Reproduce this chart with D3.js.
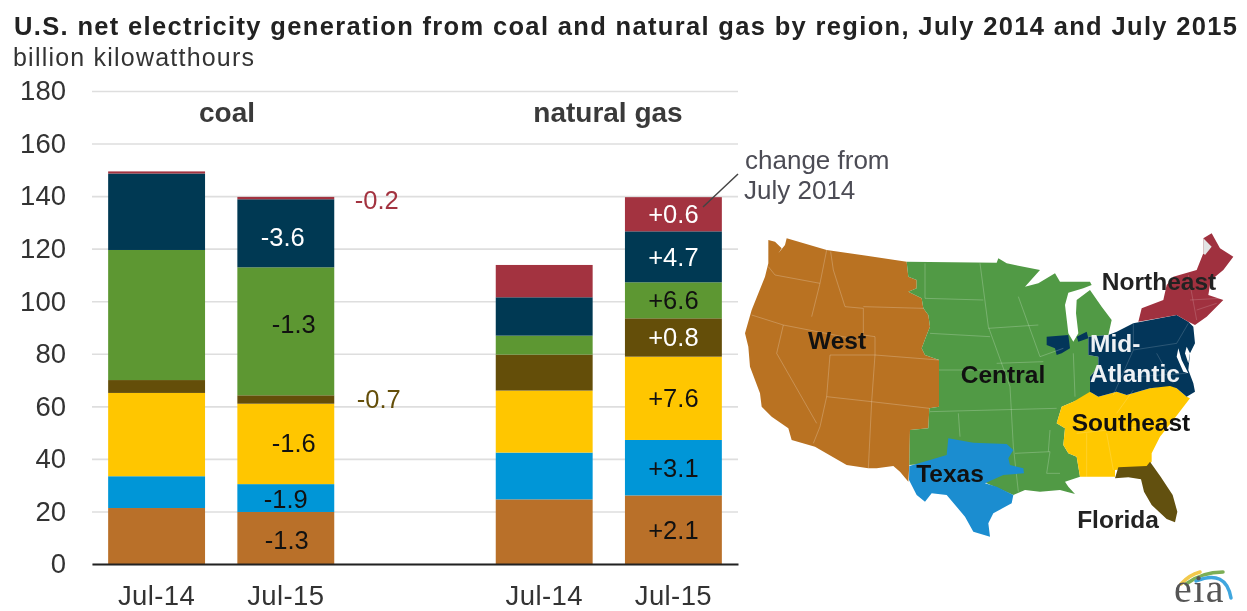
<!DOCTYPE html>
<html>
<head>
<meta charset="utf-8">
<title>U.S. net electricity generation from coal and natural gas by region</title>
<script src="https://d3js.org/d3.v7.min.js"></script>
<style>
    html, body { margin: 0; padding: 0; background: #fff; }
    svg { display: block; filter: blur(0.35px); }
    text { font-family: "Liberation Sans", Arial, sans-serif; }
    .grid line { stroke: #dedede; stroke-width: 1.6; }
    .grid .tick text { font-size: 27.5px; fill: #333; }
    .xaxis .tick text { font-size: 27.5px; fill: #333; letter-spacing: 0.4px; }
    .xaxis .domain { stroke: #222; stroke-width: 2; }
    .map-label { font-size: 24.5px; font-weight: bold; }
</style>
</head>
<body>
<div id="chart"></div>
<script>
// values, bottom of the stack first
const regions = ["West", "Texas", "Southeast", "Florida", "Central", "Mid-Atlantic", "Northeast"];
const colors = ["#b97029", "#0096d7", "#ffc600", "#644e09", "#5d9732", "#003953", "#a33340"];

const barKeys = ["coal14", "coal15", "gap", "gas14", "gas15"];
const barLabels = ["Jul-14", "Jul-15", "", "Jul-14", "Jul-15"];
const yTicks = [0, 20, 40, 60, 80, 100, 120, 140, 160, 180];

const coal14 = [21.3, 12.1, 31.7, 4.9, 49.5, 29.1, 0.8];
const coal15 = [19.8, 10.6, 30.6, 3.2, 48.7, 25.9, 0.9];
const gas14 = [24.6, 17.8, 23.6, 13.7, 7.2, 14.6, 12.3];
const gas15 = [26.1, 21.1, 31.7, 14.6, 13.7, 19.4, 13.0];

const coalChange = ["-1.3", "-1.9", "-1.6", "-0.7", "-1.3", "-3.6", "-0.2"];
const gasChange = ["+2.1", "+3.1", "+7.6", "+0.8", "+6.6", "+4.7", "+0.6"];

// nudges for the change labels, the original places them by hand
const coalNudge = [[1, 2], [0, 1], [8, -1], [93, 0], [8, -7], [-3, 4], [91, 2]];

// no map data available offline, region outlines are hand traced from the picture (crop units)
const westShape = [[85,60],[105,65],[125,85],[115,100],[135,75],[140,55],[260,90],[380,107],[500,125],[505,170],[530,180],[530,205],[505,215],[545,235],[550,265],[565,285],[570,320],[560,345],[545,385],[555,405],[597,420],[597,560],[568,565],[565,625],[510,630],[508,735],[505,785],[480,755],[460,738],[410,745],[385,745],[320,735],[225,680],[155,660],[145,625],[95,590],[65,560],[60,520],[30,440],[25,380],[15,340],[35,270],[75,170],[85,130]];
const centralShape = [[500,125],[770,128],[775,115],[800,130],[900,150],[855,200],[895,190],[945,160],[960,185],[1050,185],[1055,195],[1030,205],[985,218],[975,255],[985,340],[1000,365],[1015,340],[1008,280],[1010,240],[1050,210],[1085,260],[1115,300],[1105,345],[1045,350],[1045,405],[1075,410],[1075,440],[1050,470],[1055,525],[1000,545],[965,560],[950,610],[975,625],[970,675],[985,700],[1010,710],[1020,770],[975,785],[985,800],[1005,822],[960,810],[900,815],[855,810],[820,825],[740,790],[700,720],[508,735],[510,630],[565,625],[568,565],[597,560],[597,420],[555,405],[545,385],[560,345],[570,320],[565,285],[550,265],[545,235],[505,215],[530,205],[530,180],[505,170]];
const midShape = [[1045,350],[1105,345],[1130,335],[1180,310],[1310,285],[1345,305],[1360,320],[1365,370],[1350,400],[1345,450],[1360,490],[1365,515],[1340,530],[1310,505],[1290,498],[1230,505],[1160,525],[1130,515],[1075,530],[1050,515],[1050,470],[1075,440],[1075,410],[1045,405]];
const midPatchA = [[920,350],[985,345],[990,385],[965,400],[950,405],[945,385],[920,375]];
const midPatchB = [[1010,350],[1040,335],[1045,355],[1015,365]];
const northeastShape = [[1195,305],[1205,265],[1270,240],[1280,195],[1300,170],[1370,150],[1390,100],[1390,55],[1415,40],[1440,85],[1480,110],[1450,150],[1420,175],[1410,195],[1405,225],[1450,240],[1400,290],[1365,315],[1345,305],[1310,285]];
const southeastShape = [[965,560],[1000,545],[1050,515],[1075,530],[1130,515],[1160,525],[1230,505],[1290,495],[1310,505],[1340,530],[1350,535],[1300,600],[1260,650],[1235,700],[1235,725],[1220,740],[1125,750],[1125,770],[1020,770],[1010,710],[985,700],[970,675],[975,625],[950,610]];
const floridaShape = [[1125,775],[1135,742],[1220,738],[1230,725],[1262,770],[1298,825],[1312,875],[1305,907],[1280,897],[1235,855],[1212,815],[1203,778],[1165,772]];
const texasShape = [[625,655],[700,668],[800,672],[820,690],[805,715],[810,735],[850,745],[852,760],[790,765],[735,790],[770,800],[820,825],[815,850],[760,880],[745,910],[750,950],[700,935],[675,890],[620,825],[575,820],[555,845],[530,825],[507,780],[508,738],[570,720],[620,705]];
const quebecNotch = [[1390,55],[1415,80],[1395,105],[1390,100]];
const bayWest = [[1315,385],[1325,420],[1345,460],[1330,455],[1310,410]];
const bayEast = [[1340,380],[1350,400],[1345,430],[1335,400]];

const stateLines = [
    [[85,140],[105,165],[240,190]], [[260,90],[240,190],[215,290]], [[272,95],[280,150],[315,260],[370,265]],
    [[35,285],[130,315],[360,360]], [[130,315],[110,400],[230,610]], [[270,405],[260,530],[240,620],[220,670]],
    [[370,260],[550,265]], [[370,265],[370,345],[405,350],[405,405]], [[270,405],[405,405],[597,420]],
    [[260,530],[395,545],[568,565]], [[405,405],[395,545],[385,745]],
    [[555,130],[555,235]], [[555,235],[730,240]], [[570,340],[750,350]], [[720,130],[745,320],[810,500],[820,680],[835,815]],
    [[597,450],[800,450]], [[570,575],[950,565]], [[655,580],[660,650]], [[745,325],[895,315]], [[770,430],[910,425]],
    [[835,230],[900,410],[970,385]], [[825,700],[930,695],[920,760],[960,760]], [[930,630],[925,695]], [[1000,400],[1005,530]]
];
const paleLines = [
    [[1010,640],[1200,620],[1300,600]], [[1100,640],[1120,750]], [[1040,640],[1040,770]], [[1180,510],[1130,580]],
    [[1180,390],[1310,370],[1345,310]], [[1180,310],[1180,390],[1120,525]], [[1250,400],[1300,490]], [[1190,470],[1340,460]],
    [[1345,165],[1370,300]], [[1350,240],[1440,235]], [[1370,270],[1430,250]]
];

const width = 1247;
const height = 611;
const margin = { top: 91, right: 509, bottom: 47, left: 92 };

const svg = d3.select("#chart")
    .append("svg")
    .attr("width", width)
    .attr("height", height);

const x = d3.scaleBand()
    .domain(barKeys)
    .range([margin.left, width - margin.right])
    .paddingInner(0.25)
    .paddingOuter(0.125);

const y = d3.scaleLinear()
    .domain([0, 180])
    .range([height - margin.bottom, margin.top]);

// titles
svg.append("text")
    .attr("x", 14).attr("y", 35)
    .attr("font-size", 25.5).attr("font-weight", "bold").attr("fill", "#222")
    .attr("textLength", 1223)
    .text("U.S. net electricity generation from coal and natural gas by region, July 2014 and July 2015");

svg.append("text")
    .attr("x", 13).attr("y", 66)
    .attr("font-size", 25).attr("fill", "#333")
    .attr("textLength", 241)
    .text("billion kilowatthours");

// gridlines and y axis
svg.append("g")
    .attr("class", "grid")
    .attr("transform", `translate(${margin.left},0)`)
    .call(d3.axisLeft(y).tickValues(yTicks).tickSize(-(width - margin.left - margin.right)).tickPadding(26))
    .call(g => g.select(".domain").remove());

// stacked bars
const series = { coal14: coal14, coal15: coal15, gas14: gas14, gas15: gas15 };
const tableRows = barKeys.filter(k => k !== "gap").map(k => {
    const row = { key: k };
    regions.forEach((r, i) => { row[r] = series[k][i]; });
    return row;
});
const stacked = d3.stack().keys(regions)(tableRows);

svg.append("g").selectAll("g")
    .data(stacked)
    .join("g")
    .attr("fill", (d, i) => colors[i])
    .selectAll("rect")
    .data(d => d)
    .join("rect")
    .attr("x", d => x(d.data.key))
    .attr("width", x.bandwidth())
    .attr("y", d => y(d[1]))
    .attr("height", d => y(d[0]) - y(d[1]));

// x axis on top of the bars
svg.append("g")
    .attr("class", "xaxis")
    .attr("transform", `translate(0,${height - margin.bottom})`)
    .call(d3.axisBottom(x).tickSize(0).tickPadding(21.5).tickSizeOuter(0).tickFormat((d, i) => barLabels[i]));

// change labels
function changeColor(i, outside) {
    if (outside) return colors[i];
    return i === 3 || i === 5 || i === 6 ? "#fff" : "#111";
}

function drawChanges(key, labels, nudge) {
    const layerRow = tableRows.findIndex(r => r.key === key);
    svg.append("g").selectAll("text")
        .data(labels)
        .join("text")
        .attr("text-anchor", "middle")
        .attr("font-size", 25.5)
        .attr("x", (d, i) => x(key) + x.bandwidth() / 2 + (nudge ? nudge[i][0] : 0))
        .attr("y", (d, i) => {
            const s = stacked[i][layerRow];
            return (y(s[0]) + y(s[1])) / 2 + (nudge ? nudge[i][1] : 0);
        })
        .attr("dy", "0.35em")
        .attr("fill", (d, i) => changeColor(i, nudge && Math.abs(nudge[i][0]) > 50))
        .text(d => d);
}

drawChanges("coal15", coalChange, coalNudge);
drawChanges("gas15", gasChange, null);

// group headings and the note
svg.append("text").attr("x", 227).attr("y", 122).attr("text-anchor", "middle")
    .attr("font-size", 28).attr("font-weight", "bold").attr("fill", "#3a3a3a").text("coal");
svg.append("text").attr("x", 608).attr("y", 122).attr("text-anchor", "middle")
    .attr("font-size", 28).attr("font-weight", "bold").attr("fill", "#3a3a3a").text("natural gas");

svg.append("text").attr("x", 745).attr("y", 169).attr("font-size", 26).attr("fill", "#4c4c55").text("change from");
svg.append("text").attr("x", 744).attr("y", 199).attr("font-size", 26).attr("fill", "#4c4c55").text("July 2014");
svg.append("line").attr("x1", 738).attr("y1", 174).attr("x2", 703).attr("y2", 207)
    .attr("stroke", "#444").attr("stroke-width", 1.5);

// map, traced outlines go through an identity projection to sit in the page
const mapProjection = d3.geoIdentity().scale(1 / 3).translate([740, 220]);
const mapPath = d3.geoPath(mapProjection);

function ring(points) {
    const closed = points.concat([points[0]]);
    return { type: "Polygon", coordinates: [closed] };
}
function lines(list) {
    return { type: "MultiLineString", coordinates: list };
}

const mapShapes = [
    { shape: westShape, fill: "#b97222" },
    { shape: centralShape, fill: "#519a45" },
    { shape: southeastShape, fill: "#ffc800" },
    { shape: floridaShape, fill: "#62500f" },
    { shape: midShape, fill: "#03365a" },
    { shape: midPatchA, fill: "#03365a" },
    { shape: midPatchB, fill: "#03365a" },
    { shape: northeastShape, fill: "#a0313f" },
    { shape: quebecNotch, fill: "#e2e4e4" },
    { shape: bayWest, fill: "#ffffff" },
    { shape: bayEast, fill: "#ffffff" }
];

const mapLayer = svg.append("g").style("filter", "blur(0.5px)");

mapLayer.selectAll("path.region")
    .data(mapShapes)
    .join("path")
    .attr("class", "region")
    .attr("fill", d => d.fill)
    .attr("d", d => mapPath(ring(d.shape)));

mapLayer.append("path")
    .attr("d", mapPath(lines(stateLines)))
    .attr("fill", "none").attr("stroke", "#fff").attr("stroke-opacity", 0.22).attr("stroke-width", 1);
mapLayer.append("path")
    .attr("d", mapPath(lines(paleLines)))
    .attr("fill", "none").attr("stroke", "#fff").attr("stroke-opacity", 0.16).attr("stroke-width", 1);
mapLayer.append("path")
    .attr("fill", "#1b8dd0")
    .attr("d", mapPath(ring(texasShape)));

// map labels
const mapLabels = ["West", "Central", "Texas", "Southeast", "Florida", "Northeast"];
const mapLabelAt = [[837, 349], [1003, 383], [950, 482], [1131, 431], [1118, 528], [1159, 290]];
svg.append("g").selectAll("text")
    .data(mapLabels)
    .join("text")
    .attr("class", "map-label")
    .attr("text-anchor", "middle")
    .attr("x", (d, i) => mapLabelAt[i][0])
    .attr("y", (d, i) => mapLabelAt[i][1])
    .attr("fill", d => d === "Florida" || d === "Northeast" ? "#222" : "#111")
    .text(d => d);

svg.append("text").attr("class", "map-label").attr("x", 1090).attr("y", 352).attr("fill", "#eef1f4").text("Mid-");
svg.append("text").attr("class", "map-label").attr("x", 1090).attr("y", 382).attr("fill", "#eef1f4").text("Atlantic");

// eia logo
const logo = svg.append("g").attr("fill", "none").attr("stroke-linecap", "round");
logo.append("path").attr("d", "M1181,584 Q1189,575 1200,572").attr("stroke", "#f2c94c").attr("stroke-width", 3.5);
logo.append("path").attr("d", "M1186,584 Q1202,572 1223,572").attr("stroke", "#7cae55").attr("stroke-width", 3.5);
logo.append("path").attr("d", "M1196,581 Q1226,569 1231,598").attr("stroke", "#3fa6de").attr("stroke-width", 3.5);
svg.append("text").attr("x", 1174).attr("y", 602)
    .attr("font-size", 40).attr("fill", "#555").attr("letter-spacing", 1.5)
    .style("font-family", "'Liberation Serif', serif")
    .text("eia");
</script>
</body>
</html>
